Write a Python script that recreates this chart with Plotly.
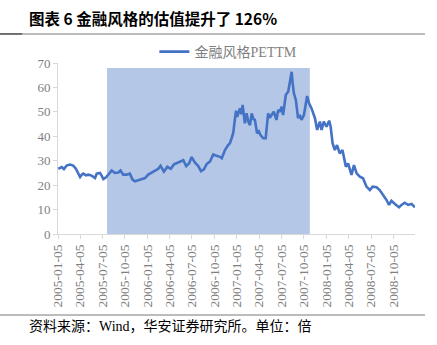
import plotly.graph_objects as go

# ---- data ----
dates = [
    "2005-01-06", "2005-01-20", "2005-01-29", "2005-02-09", "2005-02-23", "2005-03-08", "2005-03-19", "2005-03-29",
    "2005-04-05", "2005-04-12", "2005-04-18", "2005-04-29", "2005-05-09", "2005-05-22", "2005-06-05", "2005-06-12",
    "2005-06-25", "2005-07-02", "2005-07-09", "2005-07-20", "2005-07-29", "2005-08-12", "2005-08-25", "2005-09-08",
    "2005-09-17", "2005-09-28", "2005-10-12", "2005-10-25", "2005-11-05", "2005-11-15", "2005-11-28", "2005-12-12",
    "2005-12-26",
    "2006-01-08", "2006-01-22", "2006-02-04", "2006-02-18", "2006-02-27", "2006-03-13", "2006-03-27", "2006-04-10",
    "2006-04-23", "2006-05-05", "2006-05-17", "2006-05-31", "2006-06-12", "2006-06-24", "2006-07-04", "2006-07-17",
    "2006-07-31", "2006-08-11", "2006-08-23", "2006-09-04", "2006-09-17", "2006-09-30", "2006-10-14", "2006-10-27",
    "2006-11-04", "2006-11-17", "2006-11-30", "2006-12-07", "2006-12-14", "2006-12-21", "2006-12-25",
    "2007-01-01", "2007-01-06", "2007-01-13", "2007-01-17", "2007-01-23", "2007-01-28", "2007-02-06", "2007-02-13",
    "2007-02-20", "2007-02-27", "2007-03-06", "2007-03-13", "2007-03-19", "2007-03-28", "2007-04-04", "2007-04-11",
    "2007-04-22", "2007-05-02", "2007-05-12", "2007-05-19", "2007-05-26", "2007-06-04", "2007-06-15", "2007-06-22",
    "2007-06-29", "2007-07-06", "2007-07-12", "2007-07-23", "2007-08-02", "2007-08-09", "2007-08-16", "2007-08-20",
    "2007-08-25", "2007-09-02", "2007-09-11", "2007-09-18", "2007-09-25", "2007-10-05", "2007-10-13", "2007-10-18",
    "2007-10-26", "2007-11-05", "2007-11-19", "2007-11-28", "2007-12-09", "2007-12-16", "2007-12-25",
    "2008-01-05", "2008-01-16", "2008-01-22", "2008-01-30", "2008-02-08", "2008-02-17", "2008-02-28", "2008-03-10",
    "2008-03-24", "2008-04-02", "2008-04-16", "2008-04-26", "2008-05-07", "2008-05-20", "2008-06-02", "2008-06-16",
    "2008-06-30", "2008-07-11", "2008-07-27", "2008-08-09", "2008-08-23", "2008-09-06", "2008-09-16", "2008-09-26",
    "2008-10-10", "2008-10-27", "2008-11-06", "2008-11-19", "2008-12-03", "2008-12-17", "2008-12-31",
]
pe_ttm = [
    26.7, 27.4, 26.6, 28.0, 28.4, 28.0, 26.7, 24.3, 23.3, 24.3, 24.7, 24.0, 24.3, 23.9, 22.9, 24.7,
    25.0, 23.9, 22.5, 23.2, 24.3, 26.0, 25.0, 25.2, 26.0, 24.3, 24.3, 24.7, 22.3, 21.6, 22.0, 22.5,
    22.9,
    24.3, 25.2, 26.0, 26.7, 27.9, 25.5, 27.5, 26.7, 28.5, 29.0, 29.5, 30.2, 27.8, 29.0, 31.5, 29.3,
    27.8, 25.7, 26.5, 28.7, 29.7, 32.6, 32.0, 31.6, 31.0, 34.4, 36.4, 37.1, 39.2, 41.5, 45.0,
    50.5, 48.0, 49.8, 51.4, 49.0, 52.8, 45.3, 49.4, 46.0, 44.6, 49.4, 47.0, 46.7, 41.2, 42.0, 40.5,
    39.2, 39.2, 49.4, 47.5, 48.7, 50.1, 46.7, 50.8, 50.0, 52.1, 48.7, 56.9, 58.3, 63.0, 66.4, 61.7,
    57.6, 54.9, 47.4, 48.7, 46.7, 48.7, 53.5, 56.5, 53.5, 51.4, 47.4, 42.6, 46.0, 42.6, 46.0,
    43.9, 46.4, 43.9, 37.1, 34.4, 36.4, 33.0, 34.4, 27.5, 28.9, 24.2, 28.2, 24.8, 23.5, 22.8, 19.4,
    18.0, 19.4, 19.1, 18.0, 16.0, 13.9, 11.9, 13.6, 12.3, 10.9, 11.9, 12.8, 11.9, 12.3, 10.9,
]
tick_dates = [
    "2005-01-05", "2005-04-05", "2005-07-05", "2005-10-05", "2006-01-05", "2006-04-05", "2006-07-05", "2006-10-05",
    "2007-01-05", "2007-04-05", "2007-07-05", "2007-10-05", "2008-01-05", "2008-04-05", "2008-07-05", "2008-10-05",
]
shade_start = "2005-07-24"
shade_end = "2007-10-29"
shade_top = 68
series_name = "金融风格PETTM"
title_text = "图表 6 金融风格的估值提升了 126%"
source_text = "资料来源：Wind，华安证券研究所。单位：倍"

SERIF = "Liberation Serif, Times New Roman, Noto Sans CJK SC, serif"
GRAY = "#7f7f7f"

fig = go.Figure()
fig.add_trace(go.Scatter(
    x=dates, y=pe_ttm, mode="lines", name=series_name,
    line=dict(color="#4472c4", width=2.6),
))

shapes = [
    dict(type="rect", xref="x", yref="y", x0=shade_start, x1=shade_end, y0=0, y1=shade_top,
         fillcolor="#b4c7e7", line=dict(width=0), layer="below"),
    dict(type="line", xref="paper", yref="paper", x0=-0.1625, x1=1.028, y0=1.17, y1=1.17,
         line=dict(color="#a6a6a6", width=1.5)),
    dict(type="line", xref="paper", yref="paper", x0=-0.1625, x1=-0.1, y0=1.17, y1=1.17,
         line=dict(color="#595959", width=1.5)),
    dict(type="line", xref="paper", yref="paper", x0=-0.1625, x1=1.028, y0=-0.474, y1=-0.474,
         line=dict(color="#a6a6a6", width=1.5)),
]

annotations = [
    dict(text=title_text, xref="paper", yref="paper", x=-0.087, y=1.263, xanchor="left", yanchor="middle",
         showarrow=False, font=dict(family="Noto Sans CJK SC", size=15.5, color="#000000", weight="bold")),
    dict(text=source_text, xref="paper", yref="paper", x=-0.087, y=-0.54, xanchor="left", yanchor="middle",
         showarrow=False, font=dict(family=SERIF, size=14, color="#000000")),
]

fig.update_layout(
    width=437, height=345,
    margin=dict(l=58, r=22, t=63, b=111),
    paper_bgcolor="white", plot_bgcolor="white",
    showlegend=True,
    legend=dict(orientation="h", x=0.27, y=1.064, xanchor="left", yanchor="middle",
                font=dict(family=SERIF, size=14, color=GRAY), bgcolor="rgba(0,0,0,0)"),
    shapes=shapes, annotations=annotations,
    xaxis=dict(
        type="date", range=["2005-01-05", "2008-12-31"],
        tickmode="array", tickvals=tick_dates, ticktext=tick_dates, tickangle=-90,
        showgrid=False, showline=True, linecolor="#d9d9d9", linewidth=1,
        ticks="outside", ticklen=4, tickcolor="#d9d9d9",
        tickfont=dict(family=SERIF, size=13.5, color=GRAY), zeroline=False,
    ),
    yaxis=dict(
        range=[0, 70], tickmode="array", tickvals=[0, 10, 20, 30, 40, 50, 60, 70],
        showgrid=False, showline=True, linecolor="#d9d9d9", linewidth=1,
        ticks="outside", ticklen=4, tickcolor="#d9d9d9",
        tickfont=dict(family=SERIF, size=13, color=GRAY), zeroline=False,
    ),
)

fig.write_html("out.html")
